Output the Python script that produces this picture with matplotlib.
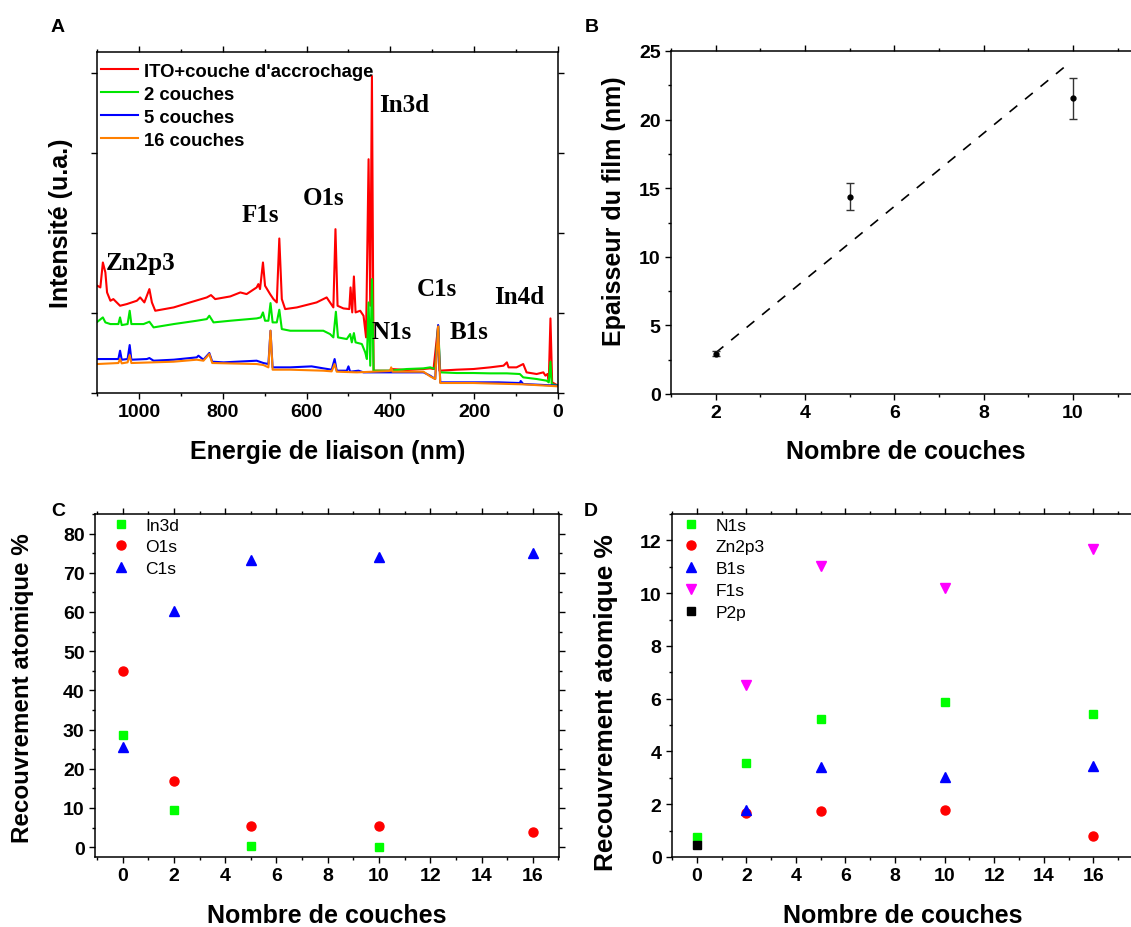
import matplotlib
matplotlib.use("Agg")
import matplotlib.pyplot as plt
from matplotlib.ticker import MultipleLocator, NullFormatter

plt.rcParams['font.family'] = ['Liberation Sans', 'DejaVu Sans']
plt.rcParams['font.weight'] = 'bold'

# ---------------- Panel A : XPS survey spectra ----------------
ito_x = [1099, 1092, 1086, 1080, 1076, 1068, 1061, 1045, 1029, 1005, 997, 987, 975, 969, 961,
         917, 878, 838, 828, 818, 782, 758, 743, 719, 715, 711, 704, 699, 687, 679, 671, 665,
         659, 651, 623, 576, 552, 544, 536, 531, 526, 512, 498, 495, 491, 487, 483, 472, 464,
         458, 452, 448, 444, 440, 425, 401, 398, 361, 321, 305, 297, 286, 283, 242, 202, 162,
         130, 122, 118, 99, 83, 75, 51, 35, 30, 25, 22, 18, 14, 7, 0]
ito_y = [32.2, 31.7, 39.2, 36.2, 30.2, 27.7, 28.2, 26.2, 26.7, 27.7, 28.7, 27.2, 31.2, 27.2, 24.7,
         25.7, 27.2, 28.7, 29.4, 28.2, 29.0, 30.2, 29.7, 31.7, 32.7, 31.2, 39.2, 32.2, 29.7, 28.2,
         27.2, 46.4, 28.2, 25.2, 25.7, 27.2, 28.7, 27.2, 25.7, 49.2, 26.2, 25.4, 25.2, 31.7, 24.2,
         35.0, 24.2, 24.7, 23.2, 16.7, 70.2, 26.2, 95.2, 6.7, 6.7, 6.7, 7.2, 6.9, 7.2, 7.4, 7.2,
         20.2, 6.7, 7.0, 7.2, 7.7, 8.2, 9.2, 7.7, 7.7, 8.7, 6.2, 5.7, 6.2, 5.2, 5.7, 3.7, 22.4,
         3.2, 2.7, 2.2]

c2_x = [1099, 1086, 1080, 1068, 1049, 1045, 1041, 1027, 1022, 1018, 989, 975, 965, 917, 862,
        838, 832, 822, 782, 719, 709, 704, 699, 691, 686, 681, 671, 665, 659, 639, 560, 544,
        536, 530, 525, 504, 496, 492, 487, 483, 468, 460, 456, 452, 448, 444, 440, 401, 361,
        321, 305, 293, 286, 281, 242, 202, 162, 122, 91, 83, 51, 27, 22, 18, 15, 0]
c2_y = [21.4, 22.7, 21.2, 20.7, 20.7, 22.7, 20.4, 20.7, 24.7, 20.7, 20.7, 21.4, 19.7, 20.7, 21.7,
        22.2, 23.2, 21.2, 21.7, 22.4, 22.7, 24.2, 21.7, 21.7, 27.0, 21.2, 21.2, 25.0, 19.2, 18.7,
        18.7, 17.7, 16.7, 24.4, 16.7, 16.2, 17.7, 15.2, 18.0, 15.2, 14.7, 12.2, 10.2, 27.2, 8.2,
        34.2, 6.7, 6.7, 7.2, 7.4, 7.7, 7.2, 20.2, 6.2, 6.0, 6.0, 5.9, 5.9, 5.7, 4.7, 4.2, 3.7,
        3.2, 9.4, 2.7, 2.2]

c5_x = [1099, 1049, 1045, 1041, 1027, 1022, 1018, 981, 975, 965, 917, 862, 858, 846, 832, 825,
        798, 719, 703, 691, 686, 681, 639, 588, 560, 540, 533, 528, 504, 500, 496, 476, 464,
        440, 401, 321, 305, 293, 286, 281, 202, 142, 91, 89, 83, 0]
c5_y = [10.2, 10.2, 12.7, 10.0, 10.2, 14.4, 10.0, 10.2, 10.5, 9.7, 10.0, 10.7, 11.2, 10.0, 12.0,
        9.4, 9.2, 9.7, 9.0, 8.7, 18.7, 7.7, 7.7, 8.0, 7.4, 7.0, 10.2, 6.7, 6.7, 8.0, 6.4, 6.7,
        6.2, 6.2, 6.2, 6.2, 5.2, 4.2, 20.4, 3.2, 3.2, 3.2, 3.0, 3.6, 2.7, 2.2]

c16_x = [1099, 1049, 1045, 1041, 1027, 1022, 1018, 917, 862, 846, 832, 825, 719, 703, 691, 686,
         681, 639, 560, 540, 533, 528, 480, 401, 398, 395, 321, 305, 293, 286, 281, 202, 83, 0]
c16_y = [8.7, 9.0, 10.2, 8.9, 9.2, 11.4, 9.0, 9.4, 10.0, 9.7, 11.7, 9.0, 8.7, 8.4, 7.7, 18.7,
         7.0, 7.0, 6.7, 6.5, 8.7, 6.4, 6.2, 6.6, 7.7, 6.4, 6.4, 5.0, 4.2, 20.0, 3.0, 3.0, 2.6, 2.0]

peak_names = ['Zn2p3', 'F1s', 'O1s', 'In3d', 'N1s', 'C1s', 'B1s', 'In4d']
peak_x = [995, 711, 560, 368, 396, 290, 212, 92]
peak_y = [39.2, 53.7, 58.7, 86.7, 18.5, 31.5, 18.5, 29.0]

# ---------------- Panel B : film thickness ----------------
nb_couches_b = [2, 5, 10]
epaisseur = [2.95, 14.39, 21.54]
epaisseur_err = [0.15, 1.0, 1.5]
fit_x = [2, 9.87]
fit_y = [3.0, 24.0]

# ---------------- Panel C ----------------
in3d_x = [0, 2, 5, 10]
in3d_y = [28.6, 9.5, 0.25, 0.0]
o1s_x = [0, 2, 5, 10, 16]
o1s_y = [45.0, 16.8, 5.45, 5.3, 3.9]
c1s_x = [0, 2, 5, 10, 16]
c1s_y = [25.5, 60.3, 73.2, 74.0, 75.0]

# ---------------- Panel D ----------------
n1s_x = [0, 2, 5, 10, 16]
n1s_y = [0.77, 3.58, 5.23, 5.89, 5.41]
zn_x = [2, 5, 10, 16]
zn_y = [1.68, 1.73, 1.80, 0.78]
b1s_x = [2, 5, 10, 16]
b1s_y = [1.78, 3.43, 3.04, 3.46]
f1s_x = [2, 5, 10, 16]
f1s_y = [6.52, 11.03, 10.2, 11.66]
p2p_x = [0]
p2p_y = [0.46]

TICK_FS = 14
LABEL_FS = 18

fig = plt.figure(figsize=(11.31, 9.28), dpi=100)


def style_axes(ax):
    ax.tick_params(which='both', direction='out', width=1, labelsize=TICK_FS)
    ax.tick_params(which='major', length=4)
    ax.tick_params(which='minor', length=2.5)
    ax.tick_params(which='both', top=True, right=True)
    for s in ax.spines.values():
        s.set_linewidth(1.1)
    for lab in ax.get_xticklabels() + ax.get_yticklabels():
        lab.set_fontweight('bold')


# ---------- A ----------
axA = fig.add_axes([97/1131, 1-394/928, 461/1131, 341/928])
axA.plot(ito_x, ito_y, color='#ff0000', lw=1.5, label="ITO+couche d'accrochage")
axA.plot(c2_x, c2_y, color='#00e600', lw=1.5, label='2 couches')
axA.plot(c5_x, c5_y, color='#0000ff', lw=1.5, label='5 couches')
axA.plot(c16_x, c16_y, color='#ff8000', lw=1.5, label='16 couches')
axA.set_xlim(1100, 0)
axA.set_ylim(0, 102.4)
axA.xaxis.set_major_locator(MultipleLocator(200))
axA.xaxis.set_minor_locator(MultipleLocator(100))
axA.yaxis.set_major_locator(MultipleLocator(24))
axA.yaxis.set_major_formatter(NullFormatter())
style_axes(axA)
for name, px, py in zip(peak_names, peak_x, peak_y):
    axA.text(px, py, name, ha='center', va='center', fontsize=18, fontweight='bold',
             family=['Liberation Serif', 'DejaVu Serif'])
axA.legend(loc='upper left', bbox_to_anchor=(0.0, 0.98), frameon=False,
           handlelength=2.0, handletextpad=0.35, labelspacing=0.33, borderpad=0,
           borderaxespad=0.2, prop={'weight': 'bold', 'size': 13.3})
axA.set_xlabel('Energie de liaison (nm)', fontsize=LABEL_FS, fontweight='bold', va='center')
axA.xaxis.set_label_coords(0.5, -0.170)
axA.set_ylabel('Intensité (u.a.)', fontsize=LABEL_FS, fontweight='bold', va='center')
axA.yaxis.set_label_coords(-0.078, 0.5)

# ---------- B ----------
axB = fig.add_axes([671/1131, 1-395/928, 469/1131, 343/928])
axB.plot(fit_x, fit_y, color='black', lw=1.2, linestyle=(0, (6, 6)))
axB.errorbar(nb_couches_b, epaisseur, yerr=epaisseur_err, fmt='o', color='black', ms=3.5,
             ecolor='#333333', elinewidth=1, capsize=3, capthick=1)
axB.set_xlim(1, 11.5)
axB.set_ylim(0, 25)
axB.xaxis.set_major_locator(MultipleLocator(2))
axB.xaxis.set_minor_locator(MultipleLocator(1))
axB.yaxis.set_major_locator(MultipleLocator(5))
axB.yaxis.set_minor_locator(MultipleLocator(2.5))
style_axes(axB)
axB.set_xlabel('Nombre de couches', fontsize=LABEL_FS, fontweight='bold', va='center')
axB.xaxis.set_label_coords(0.5, -0.166)
axB.set_ylabel('Epaisseur du film (nm)', fontsize=LABEL_FS, fontweight='bold', va='center')
axB.yaxis.set_label_coords(-0.1215, 0.536)

# ---------- C ----------
axC = fig.add_axes([95/1131, 1-858/928, 464/1131, 343/928])
axC.plot(in3d_x, in3d_y, 's', color='#00ff00', ms=5.5, label='In3d')
axC.plot(o1s_x, o1s_y, 'o', color='#ff0000', ms=6.5, label='O1s')
axC.plot(c1s_x, c1s_y, '^', color='#0000ff', ms=7, label='C1s')
axC.set_xlim(-1.08, 17.02)
axC.set_ylim(-2.5, 85)
axC.xaxis.set_major_locator(MultipleLocator(2))
axC.xaxis.set_minor_locator(MultipleLocator(1))
axC.yaxis.set_major_locator(MultipleLocator(10))
axC.yaxis.set_minor_locator(MultipleLocator(5))
style_axes(axC)
axC.legend(loc='upper left', bbox_to_anchor=(0.037, 0.99), frameon=False, numpoints=1,
           handlelength=1.0, handletextpad=0.9, labelspacing=0.38, borderpad=0,
           borderaxespad=0, prop={'weight': 'normal', 'size': 12.5})
axC.set_xlabel('Nombre de couches', fontsize=LABEL_FS, fontweight='bold', va='center')
axC.xaxis.set_label_coords(0.5, -0.169)
axC.set_ylabel('Recouvrement atomique %', fontsize=17.4, fontweight='bold', va='center')
axC.yaxis.set_label_coords(-0.157, 0.496)

# ---------- D ----------
axD = fig.add_axes([672/1131, 1-858/928, 461/1131, 343/928])
axD.plot(n1s_x, n1s_y, 's', color='#00ff00', ms=5.5, label='N1s')
axD.plot(zn_x, zn_y, 'o', color='#ff0000', ms=6.5, label='Zn2p3')
axD.plot(b1s_x, b1s_y, '^', color='#0000ff', ms=7, label='B1s')
axD.plot(f1s_x, f1s_y, 'v', color='#ff00ff', ms=7, label='F1s')
axD.plot(p2p_x, p2p_y, 's', color='black', ms=5.5, label='P2p')
axD.set_xlim(-1, 17.6)
axD.set_ylim(0, 13)
axD.xaxis.set_major_locator(MultipleLocator(2))
axD.xaxis.set_minor_locator(MultipleLocator(1))
axD.yaxis.set_major_locator(MultipleLocator(2))
axD.yaxis.set_minor_locator(MultipleLocator(1))
style_axes(axD)
axD.legend(loc='upper left', bbox_to_anchor=(0.022, 0.99), frameon=False, numpoints=1,
           handlelength=1.0, handletextpad=0.9, labelspacing=0.38, borderpad=0,
           borderaxespad=0, prop={'weight': 'normal', 'size': 12.5})
axD.set_xlabel('Nombre de couches', fontsize=LABEL_FS, fontweight='bold', va='center')
axD.xaxis.set_label_coords(0.5, -0.169)
axD.set_ylabel('Recouvrement atomique %', fontsize=18.9, fontweight='bold', va='center')
axD.yaxis.set_label_coords(-0.143, 0.452)

# panel letters
for letter, px, py in [('A', 58, 28), ('B', 592, 28), ('C', 58, 512), ('D', 591, 512)]:
    fig.text(px/1131, 1-py/928, letter, ha='center', va='center', fontsize=14, fontweight='bold')

fig.savefig('out.png', dpi=100)
